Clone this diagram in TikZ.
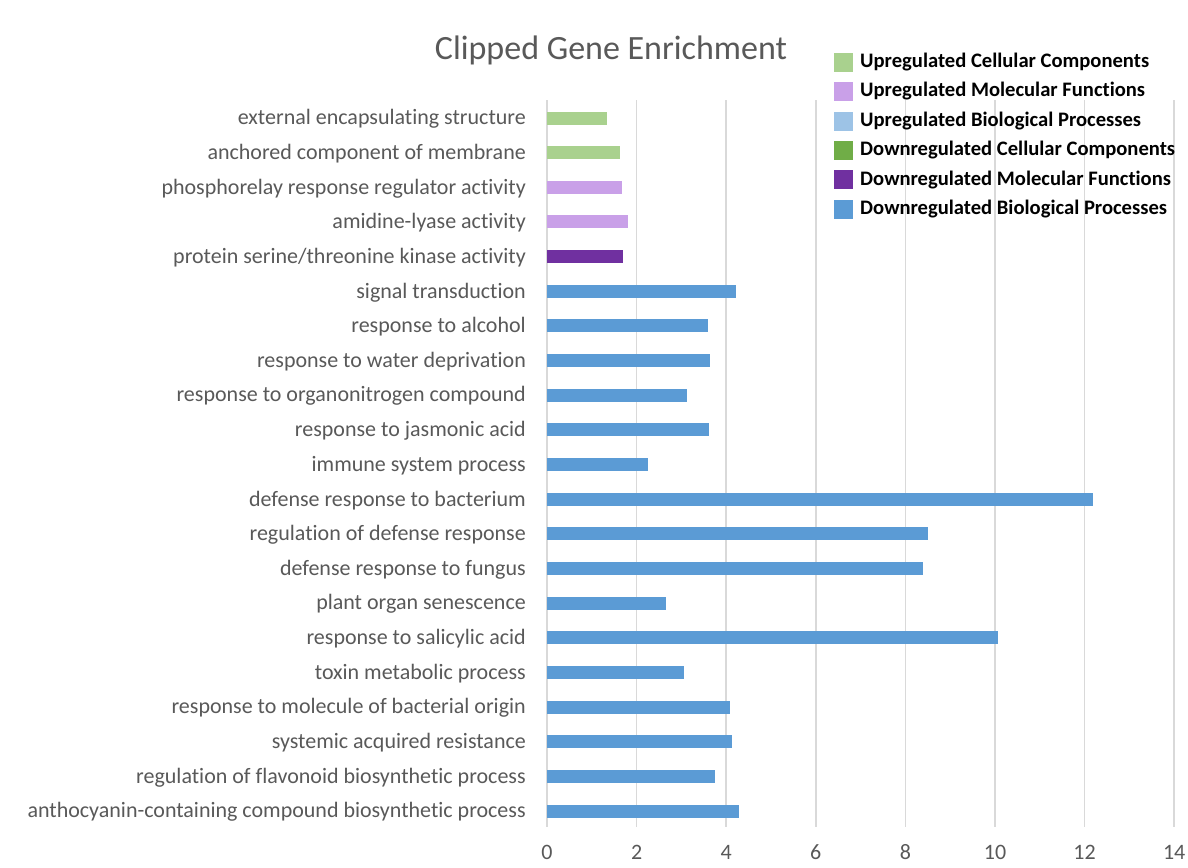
\documentclass[tikz,border=0pt]{standalone}
\usepackage{fontspec}
\setmainfont[Ligatures=NoCommon]{Carlito}
\definecolor{ucc}{HTML}{A9D18E}
\definecolor{umf}{HTML}{C9A0E8}
\definecolor{ubp}{HTML}{9DC3E6}
\definecolor{dcc}{HTML}{70AD47}
\definecolor{dmf}{HTML}{7030A0}
\definecolor{dbp}{HTML}{5B9BD5}
\definecolor{txt}{HTML}{595959}
\definecolor{grid}{HTML}{D9D9D9}
\begin{document}
\begin{tikzpicture}[x=1pt,y=-1pt,
  cat/.style={anchor=east,text=txt,font=\fontsize{22}{23}\selectfont,inner sep=0pt},
  tick/.style={anchor=base,text=txt,font=\fontsize{22}{24}\selectfont,inner sep=0pt},
  leg/.style={anchor=west,font=\bfseries\fontsize{20.6}{22}\selectfont,inner sep=0pt},
  legbox/.style={minimum width=20pt,minimum height=20pt,inner sep=0pt,draw=white,line width=0.5pt}]
\useasboundingbox (0,0) rectangle (1188,867);
\fill[white] (0,0) rectangle (1188,867);
% gridlines
\foreach \v in {0,2,...,14} {
  \draw[grid,line width=1.6pt] ({547+44.8*\v},100) -- ({547+44.8*\v},827);
  \node[tick] (t\v) at ({547+44.8*\v},859) {\v};
}
% title
\node[text=txt,font=\fontsize{34}{36}\selectfont,inner sep=0pt] (title) at (611,50) {Clipped Gene Enrichment};
% bars
\foreach \i/\val/\col/\lab in {
 0/1.34/ucc/external encapsulating structure,
 1/1.63/ucc/anchored component of membrane,
 2/1.67/umf/phosphorelay response regulator activity,
 3/1.81/umf/amidine-lyase activity,
 4/1.70/dmf/protein serine\slash threonine kinase activity,
 5/4.22/dbp/signal transduction,
 6/3.59/dbp/response to alcohol,
 7/3.64/dbp/response to water deprivation,
 8/3.12/dbp/response to organonitrogen compound,
 9/3.62/dbp/response to jasmonic acid,
 10/2.25/dbp/immune system process,
 11/12.19/dbp/defense response to bacterium,
 12/8.50/dbp/regulation of defense response,
 13/8.39/dbp/defense response to fungus,
 14/2.66/dbp/plant organ senescence,
 15/10.07/dbp/response to salicylic acid,
 16/3.06/dbp/toxin metabolic process,
 17/4.08/dbp/response to molecule of bacterial origin,
 18/4.13/dbp/systemic acquired resistance,
 19/3.75/dbp/regulation of flavonoid biosynthetic process,
 20/4.29/dbp/anthocyanin-containing compound biosynthetic process} {
  \fill[\col] (547,{118+34.65*\i-6.5}) rectangle ({547+44.8*\val},{118+34.65*\i+6.5});
  \node[cat] (c\i) at (526,{119+34.65*\i}) {\lab};
}
% legend
\foreach \j/\col/\lab in {
 0/ucc/Upregulated Cellular Components,
 1/umf/Upregulated Molecular Functions,
 2/ubp/Upregulated Biological Processes,
 3/dcc/Downregulated Cellular Components,
 4/dmf/Downregulated Molecular Functions,
 5/dbp/Downregulated Biological Processes} {
  \node[legbox,fill=\col] (lb\j) at (843,{62+29.4*\j}) {};
  \node[leg] (lt\j) at (860,{62+29.4*\j}) {\lab};
}
\end{tikzpicture}
\end{document}
